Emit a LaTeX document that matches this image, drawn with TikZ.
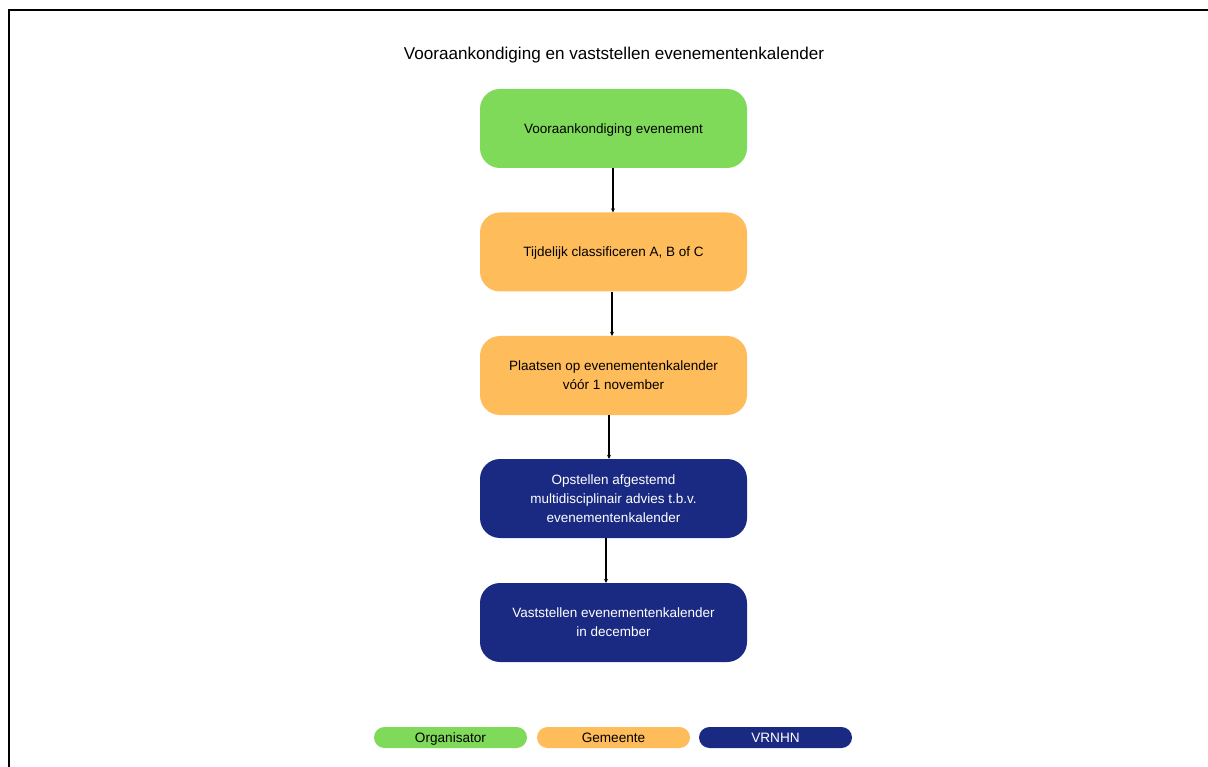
\documentclass[tikz,border=0pt]{standalone}
\usepackage{fontspec}
\setmainfont{Liberation Sans}
\usetikzlibrary{arrows.meta}
\definecolor{cgreen}{HTML}{7FDA5A}
\definecolor{corange}{HTML}{FFBC5A}
\definecolor{cnavy}{HTML}{1A2A83}
\tikzset{
  box/.style={rounded corners=20pt, minimum width=267pt, minimum height=79pt, inner sep=0pt},
  lbl/.style={align=center, inner sep=0pt, yshift=-1.5pt, font=\fontsize{13.5pt}{19pt}\selectfont},
  mlbl/.style={lbl, yshift=1.5pt},
  org/.style={box, fill=cgreen},
  gem/.style={box, fill=corange},
  vr/.style={box, fill=cnavy},
  pill/.style={rounded corners=10.5pt, minimum width=153pt, minimum height=21pt, inner sep=0pt, text height=11pt, text depth=2pt, font=\fontsize{13.6pt}{15pt}\selectfont},
  conn/.style={line width=1.6pt, -{Stealth[length=4pt,width=4pt]}}
}
\begin{document}
\begin{tikzpicture}[x=1pt,y=-1pt]
\useasboundingbox (0,0) rectangle (1208,767);
\fill[white] (0,0) rectangle (1208,767);
\draw[line width=2.5pt] (9,767) -- (9,10) -- (1208,10);
\node (title) at (614,55.5) {\fontsize{17.1pt}{20pt}\selectfont Vooraankondiging en vaststellen evenementenkalender};
\node[org] (b1) at (613.5,128.5) {};
\node[lbl] (t1) at (b1.center) {Vooraankondiging evenement};
\node[gem] (b2) at (613.5,252) {};
\node[lbl] (t2) at (b2.center) {Tijdelijk classificeren A, B of C};
\node[gem] (b3) at (613.5,375.5) {};
\node[mlbl] (t3) at (b3.center) {Plaatsen op evenementenkalender\\vóór 1 november};
\node[vr] (b4) at (613.5,498.5) {};
\node[mlbl, text=white] (t4) at (b4.center) {Opstellen afgestemd\\multidisciplinair advies t.b.v.\\evenementenkalender};
\node[vr] (b5) at (613.5,622.5) {};
\node[mlbl, text=white] (t5) at (b5.center) {Vaststellen evenementenkalender\\in december};
\draw[conn] (b1.south -| 613,0) -- (b2.north -| 613,0);
\draw[conn] (b2.south -| 612,0) -- (b3.north -| 612,0);
\draw[conn] (b3.south -| 609,0) -- (b4.north -| 609,0);
\draw[conn] (b4.south -| 606,0) -- (b5.north -| 606,0);
\node[pill, fill=cgreen] (l1) at (450.5,737.5) {Organisator};
\node[pill, fill=corange] (l2) at (613.5,737.5) {Gemeente};
\node[pill, fill=cnavy, text=white] (l3) at (775.5,737.5) {VRNHN};
\end{tikzpicture}
\end{document}
